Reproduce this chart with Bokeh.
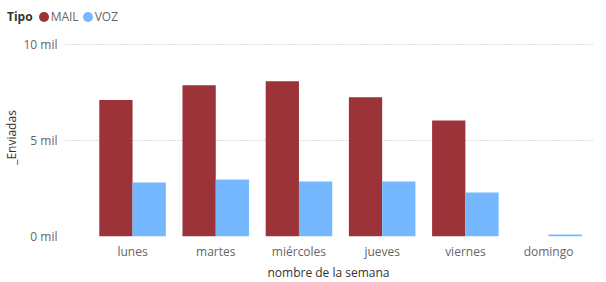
from bokeh.plotting import figure
from bokeh.models import ColumnDataSource, Range1d, FixedTicker, Div
from bokeh.layouts import column
from bokeh.embed import file_html
from bokeh.resources import INLINE

days = ["lunes", "martes", "miércoles", "jueves", "viernes", "domingo"]
mail = [7100, 7870, 8070, 7240, 6040, 0]
voz = [2810, 2970, 2860, 2860, 2290, 100]
y_ticks = [0, 5000, 10000]
y_tick_labels = ["0 mil", "5 mil", "10 mil"]
series = ["MAIL", "VOZ"]
legend_title = "Tipo"

MAIL_C = "#9B3338"
VOZ_C = "#75B8FF"
colors = [MAIL_C, VOZ_C]

idx = list(range(len(days)))
src = ColumnDataSource(dict(x_mail=[i - 0.2 for i in idx], x_voz=[i + 0.2 for i in idx], mail=mail, voz=voz))

p = figure(frame_width=530, frame_height=198, output_backend="svg", toolbar_location=None,
           x_range=Range1d(-0.83, 5.54), y_range=Range1d(0, 10300),
           min_border_left=60, min_border_right=0, min_border_top=8, min_border_bottom=10)

p.vbar(x="x_mail", top="mail", width=0.4, source=src, fill_color=MAIL_C, line_color=None)
p.vbar(x="x_voz", top="voz", width=0.4, source=src, fill_color=VOZ_C, line_color=None)

p.xaxis.ticker = FixedTicker(ticks=idx)
p.xaxis.major_label_overrides = {i: d for i, d in zip(idx, days)}
p.yaxis.ticker = FixedTicker(ticks=y_ticks)
p.yaxis.major_label_overrides = {t: l for t, l in zip(y_ticks, y_tick_labels)}

for ax in (p.xaxis, p.yaxis):
    ax.axis_line_color = None
    ax.major_tick_line_color = None
    ax.minor_tick_line_color = None
    ax.major_tick_out = 0
    ax.major_tick_in = 0
    ax.minor_tick_out = 0
    ax.minor_tick_in = 0
    ax.major_label_text_font = "Open Sans"
    ax.major_label_text_font_size = "12px"
    ax.major_label_text_color = "#666666"
    ax.axis_label_text_font = "Open Sans"
    ax.axis_label_text_font_size = "12px"
    ax.axis_label_text_font_style = "normal"
    ax.axis_label_text_color = "#333333"

p.xaxis.axis_label = "nombre de la semana"
p.yaxis.axis_label = "_Enviadas"
p.xaxis.major_label_standoff = 6
p.xaxis.axis_label_standoff = 1
p.yaxis.major_label_standoff = 6
p.yaxis.axis_label_standoff = 0

p.xgrid.grid_line_color = None
p.ygrid.grid_line_color = "#BBBBBB"
p.ygrid.grid_line_dash = "1 2"
p.ygrid.grid_line_width = 1
p.outline_line_color = None

dot = ('<span style="display:inline-block;width:10px;height:10px;border-radius:50%;'
       'background:{c};margin-left:{m}px;margin-right:2px;vertical-align:-1px"></span>')
html = '<span style="font-weight:bold;color:#333333">%s</span>' % legend_title
for i, (s, c) in enumerate(zip(series, colors)):
    html += dot.format(c=c, m=6 if i == 0 else 4) + '<span style="color:#666666">%s</span>' % s

legend_div = Div(text=html, width=590, height=20,
                 styles={"font-family": "Open Sans", "font-size": "12px", "line-height": "16px",
                         "padding-top": "4px", "padding-left": "2px", "box-sizing": "border-box",
                         "white-space": "nowrap"})

layout = column(legend_div, p, spacing=0)

open("out.html", "w").write(file_html(layout, INLINE))
